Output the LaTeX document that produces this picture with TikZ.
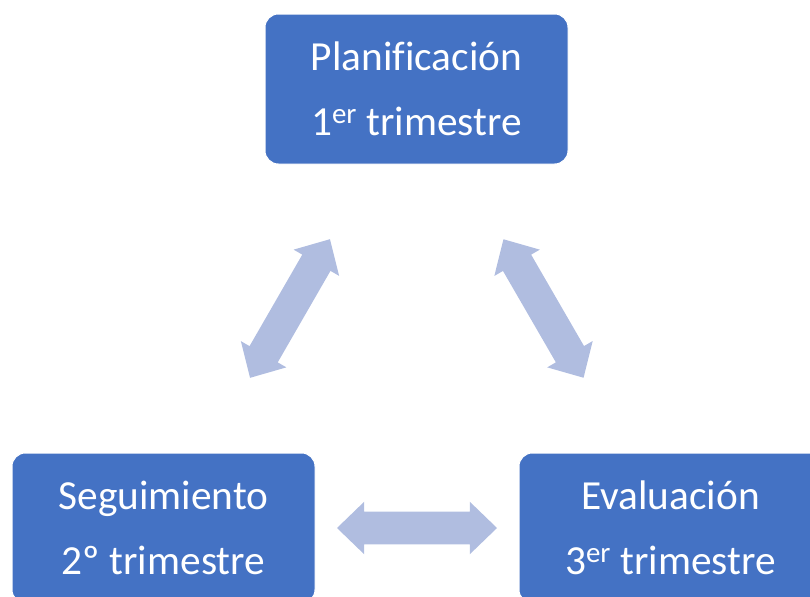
\documentclass[tikz,border=0pt]{standalone}
\usepackage{fontspec}
\setmainfont[Ligatures=NoCommon]{Carlito}
\usetikzlibrary{positioning, shapes.arrows}
\definecolor{stageBlue}{HTML}{4472C4}
\definecolor{linkBlue}{HTML}{B0BDE0}

\begin{document}
\begin{tikzpicture}[x=0.75pt, y=-0.75pt,
    stagebox/.style={rectangle, rounded corners=10pt, fill=stageBlue, draw=white, line width=0.75pt, text=white, align=center, minimum width=227.25pt, minimum height=112.5pt, inner sep=0pt, font=\fontsize{31}{48.75}\selectfont},
    linkarrow/.style={double arrow, sloped, fill=linkBlue, draw=none, inner sep=0pt, text height=12pt, text depth=12pt, minimum height=120pt, minimum width=39pt, double arrow head extend=7.5pt, double arrow tip angle=88}
  ]
    \useasboundingbox (0,0) rectangle (810,596);

    % Stages (one per term)
    \node[stagebox] (Plan) at (416.5,89) {Planificación\\1\textsuperscript{er} trimestre};
    \node[stagebox] (Seg) at (163.5,528) {Seguimiento\\2º trimestre};
    \node[stagebox, right=152.25pt of Seg] (Eval) {Evaluación\\3\textsuperscript{er} trimestre};

    % Two-way arrows between stages
    \path (Seg.center) -- (Plan.center) node[linkarrow, midway] (SegPlan) {};
    \path (Plan.center) -- (Eval.center) node[linkarrow, midway] (PlanEval) {};
    \path (Seg.center) -- (Eval.center) node[linkarrow, midway] (SegEval) {};
\end{tikzpicture}
\end{document}
